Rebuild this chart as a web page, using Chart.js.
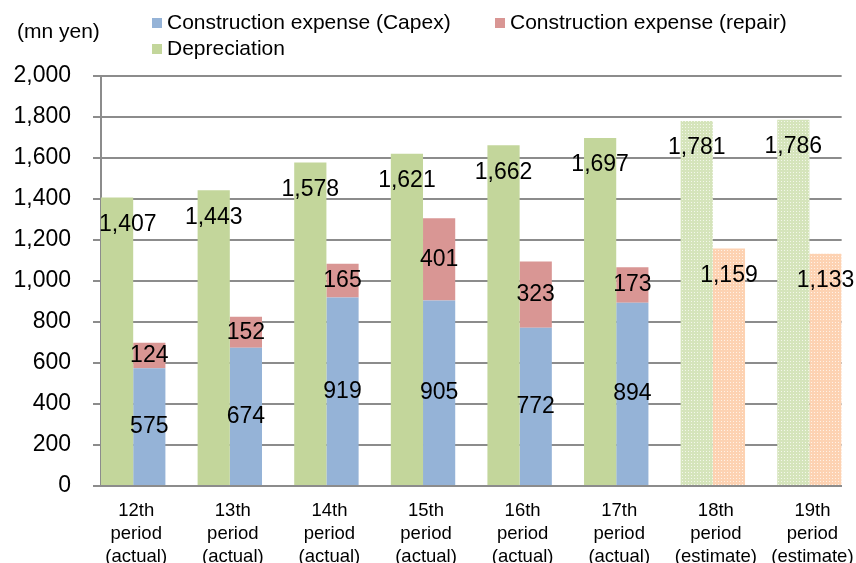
<!DOCTYPE html>
<html>
<head>
<meta charset="utf-8">
<title>Construction expense and depreciation</title>
<script src="https://cdn.jsdelivr.net/npm/chart.js@4.4.0/dist/chart.umd.min.js"></script>
<style>
  html, body { margin: 0; padding: 0; background: #fff; }
  #wrap { width: 856px; height: 563px; }
</style>
</head>
<body>
<div id="wrap"><canvas id="expenseChart" width="856" height="563"></canvas></div>
<script>
// Periods shown on the x axis (one line per array entry)
const periodLabels = [
  ["12th", "period", "(actual)"],
  ["13th", "period", "(actual)"],
  ["14th", "period", "(actual)"],
  ["15th", "period", "(actual)"],
  ["16th", "period", "(actual)"],
  ["17th", "period", "(actual)"],
  ["18th", "period", "(estimate)"],
  ["19th", "period", "(estimate)"],
];

// Values in mn yen
const depreciation = [1407, 1443, 1578, 1621, 1662, 1697, 1781, 1786];
const capex = [575, 674, 919, 905, 772, 894];
const repair = [124, 152, 165, 401, 323, 173];
const constructionEstimate = [1159, 1133];

const yTicks = [0, 200, 400, 600, 800, 1000, 1200, 1400, 1600, 1800, 2000];

const actualCount = capex.length;
const FONT = "'Liberation Sans', Arial, sans-serif";
const GRID = "#8c8c8c";

/**
 * Small dotted fill used by the estimate bars
 */
function makePattern(base, dot) {
  const tile = document.createElement("canvas");
  tile.width = 3;
  tile.height = 3;
  const t = tile.getContext("2d");
  t.fillStyle = base;
  t.fillRect(0, 0, 3, 3);
  t.fillStyle = dot;
  t.fillRect(1, 1, 1, 1);
  return t.createPattern(tile, "repeat");
}

const greenDots = makePattern("#d5e4bb", "#f3f7ea");
const orangeDots = makePattern("#fdd2b2", "#fff1e6");

const toPoints = (values, offset = 0) =>
  values.map((v, i) => ({ x: i + offset, y: v }));

// Value labels drawn on the bars
const valueLabels = {
  id: "valueLabels",
  afterDatasetsDraw(chart) {
    const { ctx, chartArea } = chart;
    ctx.save();
    ctx.font = `23px ${FONT}`;
    ctx.fillStyle = "#000";
    ctx.textAlign = "center";
    ctx.textBaseline = "middle";
    chart.data.datasets.forEach((ds, di) => {
      const meta = chart.getDatasetMeta(di);
      meta.data.forEach((bar, i) => {
        const text = ds.data[i].y.toLocaleString("en-US");
        const y = ds.labelPos === "end" ? bar.y + 27 : (bar.y + bar.base) / 2;
        const half = ctx.measureText(text).width / 2;
        const x = Math.max(bar.x, chartArea.left + half - 2);
        ctx.fillText(text, x, y);
      });
    });
    ctx.restore();
  },
};

// Unit caption and two-row legend
const headerLegend = {
  id: "headerLegend",
  afterDraw(chart) {
    const { ctx } = chart;
    ctx.save();
    ctx.font = `21px ${FONT}`;
    ctx.fillStyle = "#000";
    ctx.textBaseline = "middle";
    ctx.fillText("(mn yen)", 17, 32);

    const items = [
      { text: "Construction expense (Capex)", color: "#95b3d7", x: 152, y: 23 },
      { text: "Construction expense (repair)", color: "#d99694", x: 495, y: 23 },
      { text: "Depreciation", color: "#c3d69b", x: 152, y: 49 },
    ];
    items.forEach((item) => {
      ctx.fillStyle = item.color;
      ctx.fillRect(item.x, item.y - 5, 10, 10);
      ctx.fillStyle = "#000";
      ctx.fillText(item.text, item.x + 15, item.y);
    });
    ctx.restore();
  },
};

const ctx = document.getElementById("expenseChart").getContext("2d");

new Chart(ctx, {
  type: "bar",
  data: {
    datasets: [
      {
        label: "Depreciation",
        data: toPoints(depreciation),
        stack: "dep",
        labelPos: "end",
        backgroundColor: (c) => (c.dataIndex >= actualCount ? greenDots : "#c3d69b"),
      },
      {
        label: "Construction expense (Capex)",
        data: toPoints(capex),
        stack: "con",
        labelPos: "center",
        backgroundColor: "#95b3d7",
      },
      {
        label: "Construction expense (repair)",
        data: toPoints(repair),
        stack: "con",
        labelPos: "center",
        backgroundColor: "#d99694",
      },
      {
        label: "Construction expense (estimate)",
        data: toPoints(constructionEstimate, actualCount),
        stack: "con",
        labelPos: "end",
        backgroundColor: orangeDots,
      },
    ],
  },
  options: {
    responsive: false,
    animation: false,
    categoryPercentage: 2 / 3,
    barPercentage: 1,
    layout: {
      padding: { top: 76, right: 10, left: 0, bottom: 0 },
    },
    plugins: {
      legend: { display: false },
      tooltip: { enabled: false },
    },
    scales: {
      x: {
        type: "linear",
        bounds: "data",
        offset: false,
        min: -1 / 3,
        max: periodLabels.length - 1 + 1 / 3,
        afterBuildTicks: (scale) => {
          scale.ticks = periodLabels.map((_, i) => ({ value: i }));
        },
        afterFit: (scale) => {
          scale.height = 77;
        },
        grid: { display: false },
        border: { display: true, color: GRID, width: 2 },
        ticks: {
          autoSkip: false,
          maxRotation: 0,
          padding: 5,
          labelOffset: 3,
          color: "#000",
          font: { family: FONT, size: 18.5, lineHeight: 1.25 },
          callback: (value) => periodLabels[value],
        },
      },
      y: {
        stacked: true,
        min: 0,
        max: 2000,
        afterBuildTicks: (scale) => {
          scale.ticks = yTicks.map((v) => ({ value: v }));
        },
        afterFit: (scale) => {
          scale.width = 101;
        },
        grid: {
          color: GRID,
          lineWidth: 2,
          tickLength: 8,
          tickColor: GRID,
        },
        border: { display: true, color: GRID, width: 2 },
        ticks: {
          padding: 22,
          color: "#000",
          font: { family: FONT, size: 23 },
          callback: (value) => value.toLocaleString("en-US"),
        },
      },
    },
  },
  plugins: [valueLabels, headerLegend],
});
</script>
</body>
</html>
